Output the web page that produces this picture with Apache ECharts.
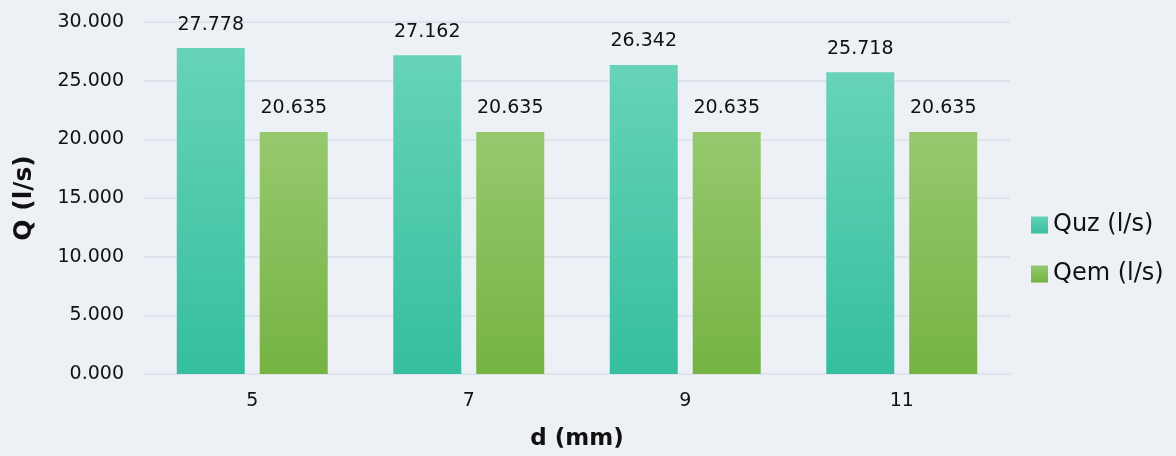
<!DOCTYPE html>
<html>
<head>
<meta charset="utf-8">
<script src="https://cdn.jsdelivr.net/npm/echarts@6/dist/echarts.min.js"></script>
<style>
  html, body { margin: 0; padding: 0; background: #edf0f5; }
  #chart { width: 1176px; height: 456px; }
</style>
</head>
<body>
<div id="chart"></div>
<script>
// Flow rate per diameter
const categories = ['5', '7', '9', '11'];
const seriesNames = ['Quz (l/s)', 'Qem (l/s)'];
const quzValues = [27.778, 27.162, 26.342, 25.718];
const qemValues = [20.635, 20.635, 20.635, 20.635];
const yTicks = { min: 0, max: 30, interval: 5 };

const FONT = '"DejaVu Sans", sans-serif';

function grad(top, bottom) {
  return new echarts.graphic.LinearGradient(0, 0, 0, 1, [
    { offset: 0, color: top },
    { offset: 1, color: bottom }
  ]);
}

const labelStyle = {
  show: true,
  position: 'top',
  distance: 14,
  color: '#111',
  fontSize: 19,
  fontFamily: FONT,
  formatter: p => p.value.toFixed(3)
};

const chart = echarts.init(document.getElementById('chart'), null, { renderer: 'canvas' });
chart.setOption({
  backgroundColor: '#edf0f5',
  animation: false,
  grid: { left: 144, right: 166, top: 22, bottom: 82, containLabel: false },
  legend: {
    orient: 'vertical',
    left: 1026,
    top: 208,
    itemWidth: 17,
    itemHeight: 17,
    itemGap: 25,
    icon: 'rect',
    textStyle: { fontSize: 24, color: '#111', fontFamily: FONT },
    data: seriesNames
  },
  xAxis: {
    type: 'category',
    data: categories,
    name: 'd (mm)',
    nameLocation: 'middle',
    nameGap: 54,
    nameTextStyle: { fontSize: 23, fontWeight: 'bold', color: '#111', fontFamily: FONT },
    axisLine: { show: true, lineStyle: { color: '#dde4ee', width: 2 } },
    axisTick: { show: false },
    axisLabel: { fontSize: 19, color: '#111', margin: 18, fontFamily: FONT }
  },
  yAxis: {
    type: 'value',
    min: yTicks.min,
    max: yTicks.max,
    interval: yTicks.interval,
    name: 'Q (l/s)',
    nameLocation: 'middle',
    nameGap: 107,
    nameTextStyle: { fontSize: 25, fontWeight: 'bold', color: '#111', fontFamily: FONT },
    axisLine: { show: false },
    axisTick: { show: false },
    splitLine: { lineStyle: { color: '#dde4ee', width: 2 } },
    axisLabel: {
      fontSize: 19, color: '#111', margin: 20, fontFamily: FONT,
      formatter: v => v.toFixed(3)
    }
  },
  series: [
    {
      name: seriesNames[0],
      type: 'bar',
      data: quzValues,
      barWidth: 68,
      barGap: '22%',
      itemStyle: { color: grad('#67d3b7', '#35bf9e') },
      label: labelStyle
    },
    {
      name: seriesNames[1],
      type: 'bar',
      data: qemValues,
      barWidth: 68,
      itemStyle: { color: grad('#96c96e', '#75b343') },
      label: labelStyle
    }
  ]
});
</script>
</body>
</html>
